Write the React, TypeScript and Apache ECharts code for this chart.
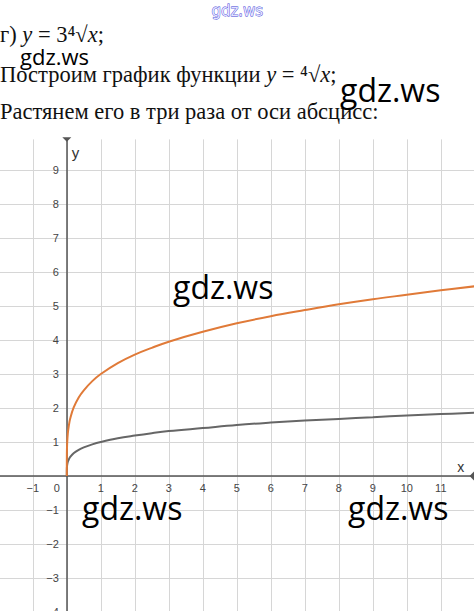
import React, { useEffect, useRef } from "react";
import * as echarts from "echarts";

// sample points
const xValues = [0, 0.002, 0.01, 0.03, 0.06, 0.1, 0.2, 0.35, 0.5, 0.75, 1, 1.5, 2, 2.5, 3, 4, 5, 6, 7, 8, 9, 10, 11, 12];
const rootValues = [0, 0.21, 0.32, 0.42, 0.49, 0.56, 0.67, 0.77, 0.84, 0.93, 1.0, 1.11, 1.19, 1.26, 1.32, 1.41, 1.5, 1.57, 1.63, 1.68, 1.73, 1.78, 1.82, 1.86];
const stretchedValues = [0, 0.64, 0.95, 1.25, 1.48, 1.69, 2.01, 2.31, 2.52, 2.79, 3.0, 3.32, 3.57, 3.77, 3.95, 4.24, 4.49, 4.7, 4.88, 5.05, 5.2, 5.33, 5.46, 5.58];

const xTickLabels = ["−1", "0", "1", "2", "3", "4", "5", "6", "7", "8", "9", "10", "11"];
const yTickLabels = ["−4", "−3", "−2", "−1", "1", "2", "3", "4", "5", "6", "7", "8", "9"];

const minus = (v: number) => (v < 0 ? "−" + Math.abs(v) : String(v));

export default function App() {
  const ref = useRef<HTMLDivElement>(null);
  useEffect(() => {
    if (!ref.current) return;
    const chart = echarts.init(ref.current, null, { renderer: "svg" });
    const serif = "Liberation Serif";
    const wm = "Open Sans";
    const fs = 22.5;
    // layout of the plotting area
    const gLeft = -1.2, gTop = 139.4, gWidth = 476, gHeight = 472.6;
    const xMin = -2, xMax = 12, yMin = -4, yMax = 9.9;
    const zeroXpx = gLeft + ((0 - xMin) / (xMax - xMin)) * gWidth;
    const zeroYpx = gTop + ((yMax - 0) / (yMax - yMin)) * gHeight;
    const xAxisOffset = -(gTop + gHeight - zeroYpx);
    const yAxisOffset = -(zeroXpx - gLeft);
    chart.setOption({
      animation: false,
      backgroundColor: "#ffffff",
      grid: { left: gLeft, top: gTop, width: gWidth, height: gHeight, containLabel: false, outerBoundsMode: "none" },
      xAxis: {
        type: "value",
        min: xMin,
        max: xMax,
        interval: 1,
        position: "bottom",
        offset: xAxisOffset,
        name: "x",
        nameLocation: "end",
        nameGap: -14,
        nameTextStyle: { fontFamily: "Liberation Sans", fontSize: 14, color: "#333", align: "center", verticalAlign: "bottom", padding: [0, 0, 2, 0] },
        axisLine: {
          onZero: false,
          lineStyle: { color: "#555", width: 1.5 },
          symbol: ["none", "path://M0,0 L5,5 L10,0"],
          symbolSize: [9, 5],
          symbolOffset: [0, -3],
        },
        axisTick: { show: false },
        splitLine: { show: true, showMinLine: false, showMaxLine: false, lineStyle: { color: "#d6d6d6", width: 1 } },
        axisLabel: {
          margin: 6,
          fontFamily: "Liberation Sans",
          fontSize: 11,
          color: "#444",
          formatter: (v: number) => {
            const s = minus(v);
            if (!xTickLabels.includes(s)) return "";
            if (v === 0) return "{o|0}";
            return s;
          },
          rich: { o: { fontFamily: "Liberation Sans", fontSize: 11, color: "#444", padding: [0, 20, 0, 0] } },
        },
      },
      yAxis: {
        type: "value",
        min: yMin,
        max: yMax,
        interval: 1,
        position: "left",
        offset: yAxisOffset,
        name: "y",
        nameLocation: "end",
        nameGap: -13,
        nameTextStyle: { fontFamily: "Liberation Sans", fontSize: 15, color: "#333", align: "left", verticalAlign: "middle", padding: [0, 0, 0, 5] },
        axisLine: {
          onZero: false,
          lineStyle: { color: "#555", width: 1.5 },
          symbol: ["none", "path://M0,0 L5,5 L10,0"],
          symbolSize: [9, 5],
          symbolOffset: [0, 0],
        },
        axisTick: { show: false },
        splitLine: { show: true, showMinLine: false, showMaxLine: false, lineStyle: { color: "#d6d6d6", width: 1 } },
        axisLabel: {
          margin: 8,
          fontFamily: "Liberation Sans",
          fontSize: 11,
          color: "#444",
          formatter: (v: number) => {
            const s = minus(v);
            return yTickLabels.includes(s) ? s : "";
          },
        },
      },
      series: [
        {
          type: "line",
          data: xValues.map((x, i) => [x, rootValues[i]]),
          smooth: 0.4,
          showSymbol: false,
          lineStyle: { color: "#666666", width: 2 },
          z: 3,
        },
        {
          type: "line",
          data: xValues.map((x, i) => [x, stretchedValues[i]]),
          smooth: 0.4,
          showSymbol: false,
          lineStyle: { color: "#e07a38", width: 2 },
          z: 4,
        },
      ],
      graphic: [
        {
          type: "text",
          left: 211,
          top: 3,
          style: { text: "gdz.ws", font: "15px 'DejaVu Sans'", fill: "#e4e4ff", stroke: "#3a3ad6", lineWidth: 0.8 },
        },
        {
          type: "text",
          left: 0,
          top: 23,
          style: {
            text: "{a|г) }{i|y}{a| = 3}{s|⁴}{a|√}{i|x}{a|;}",
            rich: {
              a: { fontFamily: serif, fontSize: fs, fill: "#111" },
              s: { fontFamily: serif, fontSize: fs, fill: "#111" },
              i: { fontFamily: serif, fontSize: fs, fontStyle: "italic", fill: "#111" },
            },
          },
        },
        {
          type: "text",
          left: 0,
          top: 63,
          style: {
            text: "{a|Построим график функции }{i|y}{a| = }{s|⁴}{a|√}{i|x}{a|;}",
            rich: {
              a: { fontFamily: serif, fontSize: fs, fill: "#111" },
              s: { fontFamily: serif, fontSize: fs, fill: "#111" },
              i: { fontFamily: serif, fontSize: fs, fontStyle: "italic", fill: "#111" },
            },
          },
        },
        {
          type: "text",
          left: 0,
          top: 100,
          style: { text: "Растянем его в три раза от оси абсцисс:", font: `${fs}px '${serif}'`, fill: "#111" },
        },
        { type: "text", left: 20, top: 45, style: { text: "gdz.ws", font: `22px '${wm}'`, fill: "#000" }, z: 10 },
        { type: "text", left: 340, top: 73, style: { text: "gdz.ws", font: `32px '${wm}'`, fill: "#000" }, z: 10 },
        { type: "text", left: 173, top: 270, style: { text: "gdz.ws", font: `32px '${wm}'`, fill: "#000" }, z: 10 },
        { type: "text", left: 82, top: 491, style: { text: "gdz.ws", font: `32px '${wm}'`, fill: "#000" }, z: 10 },
        { type: "text", left: 348, top: 491, style: { text: "gdz.ws", font: `32px '${wm}'`, fill: "#000" }, z: 10 },
      ],
    });
    return () => chart.dispose();
  }, []);
  return <div ref={ref} style={{ position: "fixed", left: 0, top: 0, width: 474, height: 611 }} />;
}
